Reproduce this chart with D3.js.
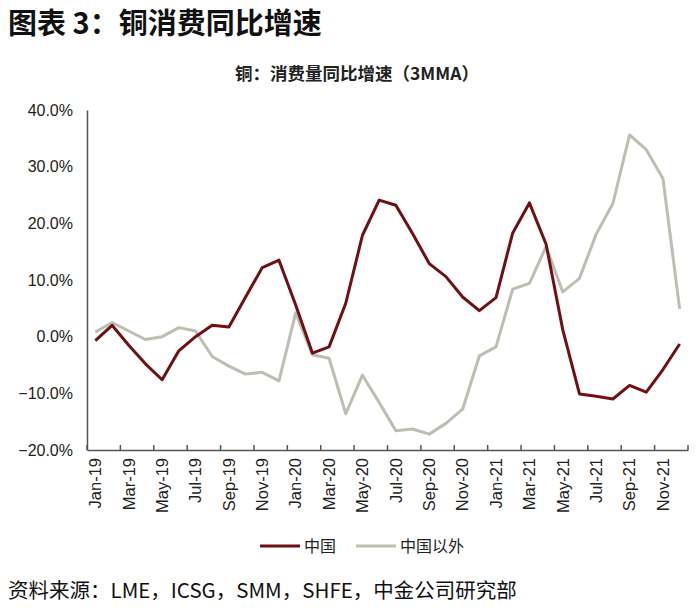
<!DOCTYPE html>
<html><head><meta charset="utf-8">
<script src="https://cdn.jsdelivr.net/npm/d3@7/dist/d3.min.js"></script>
<style>
body{margin:0;background:#fff;}
svg{display:block;}
</style></head>
<body>
<script>
const months = ["Jan-19","Feb-19","Mar-19","Apr-19","May-19","Jun-19","Jul-19","Aug-19","Sep-19","Oct-19","Nov-19","Dec-19",
"Jan-20","Feb-20","Mar-20","Apr-20","May-20","Jun-20","Jul-20","Aug-20","Sep-20","Oct-20","Nov-20","Dec-20",
"Jan-21","Feb-21","Mar-21","Apr-21","May-21","Jun-21","Jul-21","Aug-21","Sep-21","Oct-21","Nov-21","Dec-21"];
const china = [-0.7,2.0,-1.5,-4.8,-7.6,-2.5,0.0,2.0,1.7,7.0,12.2,13.5,
5.6,-2.9,-1.8,5.9,17.9,24.1,23.2,18.2,12.9,10.6,7.0,4.6,
6.9,18.3,23.6,16.3,1.2,-10.1,-10.5,-11.0,-8.6,-9.8,-5.8,-1.3];
const exChina = [0.8,2.5,1.0,-0.5,0.0,1.6,1.0,-3.5,-5.2,-6.6,-6.3,-7.8,
4.2,-3.2,-3.8,-13.6,-6.8,-11.6,-16.6,-16.3,-17.2,-15.3,-12.8,-3.4,
-1.8,8.4,9.4,15.9,7.9,10.3,18.1,23.5,35.6,33.0,27.9,4.9];
const yTicks = [-20,-10,0,10,20,30,40];
const seriesNames = ["中国","中国以外"];
const colors = ["#6e1014","#bdbdb1"];

const W=700,H=611;
const svg=d3.select("body").append("svg").attr("width",W).attr("height",H);
const latin="'Liberation Sans', Arial, sans-serif";
const cjk="'Noto Sans CJK SC', 'Liberation Sans', sans-serif";

svg.append("text").attr("x",8).attr("y",34).attr("font-family",cjk).attr("font-weight",700)
  .attr("font-size",29).attr("fill","#111").text("图表 3：铜消费同比增速");
svg.append("text").attr("x",357).attr("y",80).attr("text-anchor","middle").attr("font-family",cjk).attr("font-weight",700)
  .attr("font-size",17.5).attr("fill","#222").text("铜：消费量同比增速（3MMA）");

const x=d3.scaleBand().domain(months).range([87,688]).padding(0);
const y=d3.scaleLinear().domain([-20,40]).range([450,110]);
const cx=m=>x(m)+x.bandwidth()/2;

// y axis labels
const ya=svg.append("g").attr("transform","translate(87,0)")
  .call(d3.axisLeft(y).tickValues(yTicks).tickSize(0).tickPadding(14).tickFormat(d=>d3.format(".1f")(d)+"%"));
ya.select(".domain").attr("stroke","#555").attr("stroke-width",1.5);
ya.selectAll("text").attr("font-family",latin).attr("font-size",16).attr("fill","#222");

// x axis
const xa=svg.append("g").attr("transform","translate(0,450)")
  .call(d3.axisBottom(x).tickValues(months.filter((m,i)=>i%2===0)).tickSize(0).tickPadding(0));
xa.select(".domain").attr("stroke","#555").attr("stroke-width",1.5);
xa.selectAll("text").attr("font-family",latin).attr("font-size",16.5).attr("fill","#222")
  .attr("transform","rotate(-90)").attr("text-anchor","end").attr("dy","0.35em").attr("x",-8).attr("y",0);
// boundary ticks every 2 months
const bounds=months.filter((m,i)=>i%2===0).map(m=>x(m)).concat([x.range()[1]]);
svg.append("g").selectAll("line").data(bounds).join("line")
  .attr("x1",d=>d).attr("x2",d=>d).attr("y1",445).attr("y2",450)
  .attr("stroke","#555").attr("stroke-width",1.5);

// lines
const line=d3.line().x((d,i)=>cx(months[i])).y(d=>y(d));
[exChina,china].forEach((s,k)=>{
  const c = k===0?colors[1]:colors[0];
  svg.append("path").datum(s).attr("d",line).attr("fill","none").attr("stroke",c)
    .attr("stroke-width",3).attr("stroke-linejoin","round");
});

// legend
const lg=svg.append("g");
const legItems=[{n:seriesNames[0],c:colors[0],x:260},{n:seriesNames[1],c:colors[1],x:356}];
legItems.forEach(d=>{
  lg.append("line").attr("x1",d.x).attr("x2",d.x+40).attr("y1",546).attr("y2",546).attr("stroke",d.c).attr("stroke-width",3);
  lg.append("text").attr("x",d.x+44).attr("y",552).attr("font-family",cjk).attr("font-size",16).attr("fill","#222").text(d.n);
});

svg.append("text").attr("x",8).attr("y",598).attr("font-family",cjk).attr("font-size",20.5).attr("fill","#111")
  .text("资料来源：LME，ICSG，SMM，SHFE，中金公司研究部");
</script>
</body></html>
